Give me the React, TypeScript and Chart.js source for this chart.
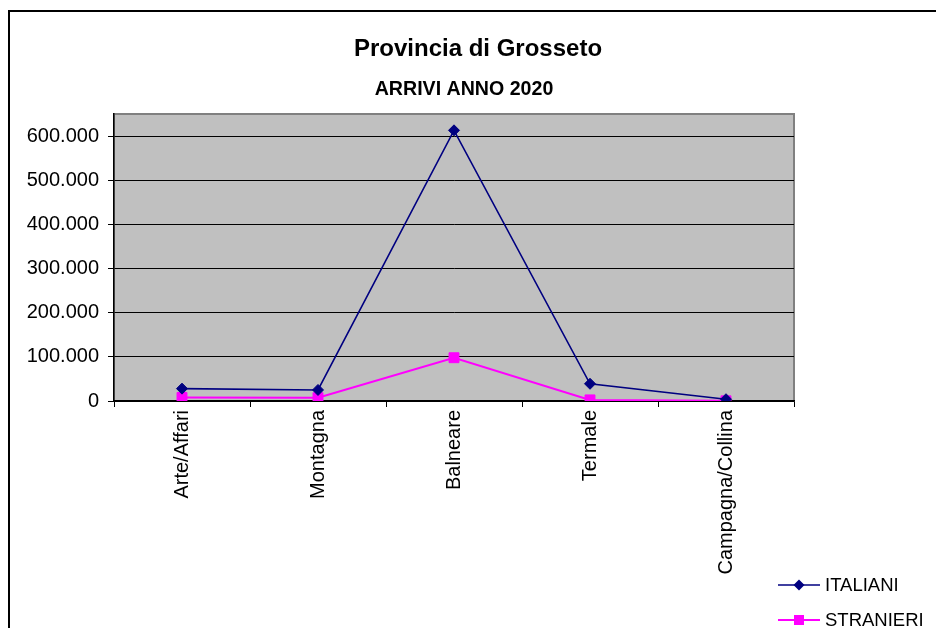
import React, { useEffect, useRef } from "react";
import { Chart, registerables } from "chart.js";

Chart.register(...registerables);

const TITLE = "Provincia di Grosseto";
const SUBTITLE = "ARRIVI ANNO 2020";
const categories = ["Arte/Affari", "Montagna", "Balneare", "Termale", "Campagna/Collina"];
const italiani = [28000, 25000, 613000, 39000, 4000];
const stranieri = [8000, 7500, 98000, 2500, 500];
const yTickValues = [0, 100000, 200000, 300000, 400000, 500000, 600000];
const seriesNames = ["ITALIANI", "STRANIERI"];
const seriesColors = ["#000080", "#FF00FF"];

const FONT = '"Liberation Sans", Arial, sans-serif';

function fmt(v: number): string {
  return String(Math.round(v)).replace(/\B(?=(\d{3})+(?!\d))/g, ".");
}

const plotBg = {
  id: "plotBg",
  beforeDraw(chart: any) {
    const { ctx, chartArea: a } = chart;
    ctx.save();
    ctx.fillStyle = "#C0C0C0";
    ctx.fillRect(a.left, a.top, a.right - a.left, a.bottom - a.top);
    ctx.strokeStyle = "#808080";
    ctx.lineWidth = 2;
    ctx.strokeRect(a.left, a.top, a.right - a.left, a.bottom - a.top);
    ctx.restore();
  },
};

const titles = {
  id: "titles",
  afterDraw(chart: any) {
    const { ctx, chartArea: a } = chart;
    const cx = (a.left + a.right) / 2;
    ctx.save();
    ctx.fillStyle = "#000";
    ctx.textAlign = "center";
    ctx.textBaseline = "alphabetic";
    ctx.font = `bold 24px ${FONT}`;
    ctx.fillText(TITLE, cx + 24, 56);
    ctx.font = `bold 19.6px ${FONT}`;
    ctx.fillText(SUBTITLE, cx + 10, 95);
    ctx.restore();
  },
};

function drawMarker(ctx: CanvasRenderingContext2D, style: string, x: number, y: number, color: string) {
  ctx.fillStyle = color;
  ctx.beginPath();
  if (style === "rectRot") {
    const r = 5.5;
    ctx.moveTo(x, y - r);
    ctx.lineTo(x + r, y);
    ctx.lineTo(x, y + r);
    ctx.lineTo(x - r, y);
    ctx.closePath();
  } else {
    const s = 5;
    ctx.rect(x - s, y - s, 2 * s, 2 * s);
  }
  ctx.fill();
}

const customLegend = {
  id: "customLegend",
  afterDraw(chart: any) {
    const { ctx } = chart;
    const x0 = chart.width - 158;
    const rowY = [585, 620];
    ctx.save();
    chart.data.datasets.forEach((ds: any, i: number) => {
      const y = rowY[i];
      ctx.strokeStyle = ds.borderColor;
      ctx.lineWidth = ds.borderWidth;
      ctx.beginPath();
      ctx.moveTo(x0, y);
      ctx.lineTo(x0 + 42, y);
      ctx.stroke();
      drawMarker(ctx, ds.pointStyle, x0 + 21, y, ds.pointBackgroundColor);
      ctx.fillStyle = "#000";
      ctx.font = `18.5px ${FONT}`;
      ctx.textAlign = "left";
      ctx.textBaseline = "middle";
      ctx.fillText(ds.label, x0 + 47, y + 1);
    });
    ctx.restore();
  },
};

export default function App() {
  const ref = useRef<HTMLCanvasElement | null>(null);

  useEffect(() => {
    if (!ref.current) return;
    const chart = new Chart(ref.current, {
      type: "line",
      data: {
        labels: categories,
        datasets: [
          {
            label: seriesNames[0],
            data: italiani,
            borderColor: seriesColors[0],
            backgroundColor: seriesColors[0],
            pointBackgroundColor: seriesColors[0],
            pointBorderColor: seriesColors[0],
            borderWidth: 1.6,
            pointStyle: "rectRot",
            pointRadius: 5.5,
            pointBorderWidth: 1,
            tension: 0,
            fill: false,
          },
          {
            label: seriesNames[1],
            data: stranieri,
            borderColor: seriesColors[1],
            backgroundColor: seriesColors[1],
            pointBackgroundColor: seriesColors[1],
            pointBorderColor: seriesColors[1],
            borderWidth: 2,
            pointStyle: "rect",
            pointRadius: 7,
            pointBorderWidth: 1,
            tension: 0,
            fill: false,
          },
        ],
      },
      options: {
        animation: false,
        responsive: false,
        maintainAspectRatio: false,
        layout: { padding: { top: 114, right: 142, left: 0, bottom: 0 } },
        plugins: {
          legend: { display: false },
          title: { display: false },
          tooltip: { enabled: false },
        },
        scales: {
          x: {
            type: "category",
            offset: true,
            grid: {
              display: true,
              offset: true,
              drawOnChartArea: false,
              drawTicks: true,
              tickLength: 6,
              color: "#000",
              lineWidth: 1,
            },
            border: { display: true, color: "#000", width: 1.5 },
            ticks: {
              minRotation: 90,
              maxRotation: 90,
              autoSkip: false,
              padding: 3,
              color: "#000",
              font: { family: FONT, size: 20 },
            },
            afterFit(s: any) {
              s.height = 227;
            },
          },
          y: {
            type: "linear",
            min: 0,
            max: 650000,
            grid: {
              display: true,
              color: "#000",
              lineWidth: 1,
              drawTicks: true,
              tickLength: 6,
            },
            border: { display: true, color: "#000", width: 1.5 },
            ticks: {
              padding: 9,
              color: "#000",
              font: { family: FONT, size: 20 },
              callback: (v: any) => fmt(Number(v)),
            },
            afterBuildTicks(s: any) {
              s.ticks = yTickValues.map((value) => ({ value }));
            },
            afterFit(s: any) {
              s.width = 114;
            },
          },
        },
      },
      plugins: [plotBg, titles, customLegend],
    });
    return () => chart.destroy();
  }, []);

  return (
    <div style={{ position: "fixed", left: 0, top: 0, width: 936, height: 628, overflow: "hidden", background: "#fff" }}>
      <div
        style={{
          position: "absolute",
          left: 8,
          top: 10,
          width: 1000,
          height: 1000,
          border: "2px solid #000",
        }}
      />
      <canvas
        ref={ref}
        width={936}
        height={628}
        style={{ position: "absolute", left: 0, top: 0, width: 936, height: 628 }}
      />
    </div>
  );
}
